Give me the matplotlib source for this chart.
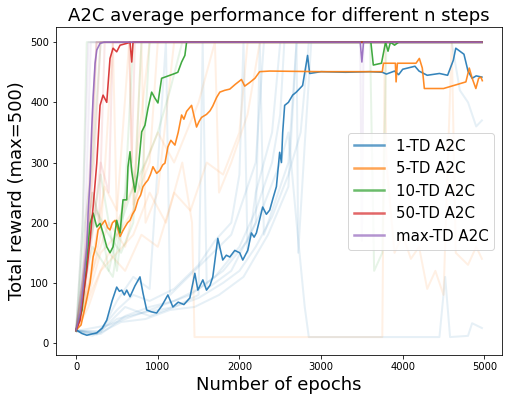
import numpy as np
import matplotlib
matplotlib.use('Agg')
import matplotlib.pyplot as plt

plt.rcParams['font.family'] = 'DejaVu Sans'
plt.rcParams['figure.facecolor'] = 'white'
plt.rcParams['axes.facecolor'] = 'white'

LABELS = ['1-TD A2C', '5-TD A2C', '10-TD A2C', '50-TD A2C', 'max-TD A2C']
COLORS = ['C0', 'C1', 'C2', 'C3', 'C4']

# mean curves, (epoch, reward)
mean_1td = [
    (0, 22), (70, 16), (131, 13), (190, 15), (253, 17), (320, 25), (375, 38),
    (440, 70), (497, 93), (530, 86), (558, 88), (590, 80), (620, 88),
    (660, 77), (720, 95), (782, 110), (819, 83), (864, 55), (920, 52),
    (986, 50), (1050, 62), (1124, 80), (1185, 60), (1250, 68), (1320, 64),
    (1393, 75), (1454, 116), (1491, 88), (1552, 105), (1597, 88),
    (1640, 96), (1674, 110), (1735, 174), (1796, 138), (1840, 146),
    (1882, 143), (1943, 154), (2004, 150), (2041, 138), (2102, 154),
    (2147, 183), (2180, 176), (2208, 183), (2285, 226), (2330, 214),
    (2371, 221), (2410, 240), (2453, 260), (2493, 317), (2515, 300),
    (2530, 350), (2554, 395), (2600, 400), (2652, 412), (2697, 417),
    (2774, 428), (2835, 478), (2860, 448), (3000, 451), (3300, 450),
    (3600, 451), (3750, 450), (3800, 447), (3900, 452), (3950, 446),
    (4000, 455), (4150, 460), (4200, 452), (4300, 445), (4450, 448),
    (4550, 445), (4620, 470), (4650, 490), (4750, 480), (4800, 452),
    (4850, 440), (4900, 444), (4970, 442),
]
mean_5td = [
    (0, 22), (60, 30), (110, 60), (171, 100), (208, 143), (240, 160),
    (269, 188), (310, 196), (354, 204), (385, 192), (415, 188), (445, 200),
    (477, 204), (510, 190), (538, 177), (570, 186), (599, 193), (630, 200),
    (660, 204), (690, 214), (721, 221), (758, 238), (790, 246), (819, 260),
    (850, 266), (880, 271), (910, 280), (941, 293), (986, 282), (1026, 287),
    (1060, 296), (1088, 299), (1124, 326), (1160, 337), (1210, 329),
    (1250, 350), (1292, 379), (1320, 372), (1353, 385), (1414, 395),
    (1475, 359), (1505, 368), (1536, 375), (1597, 380), (1640, 386),
    (1674, 394), (1720, 408), (1760, 417), (1820, 420), (1882, 422),
    (1950, 430), (2025, 438), (2065, 427), (2126, 433), (2190, 440),
    (2248, 451), (2371, 452), (3000, 451), (3500, 451), (3750, 451),
    (3764, 465), (3910, 465), (3919, 434), (3935, 465), (4163, 465),
    (4204, 473), (4240, 457), (4265, 423), (4500, 423), (4774, 434),
    (4815, 457), (4851, 440), (4896, 423), (4930, 440), (4958, 442),
    (4975, 436),
]
mean_10td = [
    (0, 22), (73, 55), (122, 121), (171, 199), (208, 216), (253, 193),
    (293, 199), (330, 183), (375, 160), (415, 150), (452, 160), (497, 204),
    (538, 183), (574, 238), (620, 238), (635, 293), (660, 318), (681, 285),
    (721, 251), (758, 285), (803, 351), (843, 362), (880, 390), (925, 417),
    (965, 407), (1002, 399), (1047, 440), (1088, 442), (1149, 445),
    (1210, 448), (1246, 450), (1292, 467), (1332, 478), (1353, 500),
    (3610, 500), (3640, 462), (3740, 465), (3790, 500), (3820, 485),
    (3850, 500), (3900, 495), (3950, 500), (4970, 500),
]
mean_50td = [
    (0, 22), (49, 38), (86, 77), (131, 121), (171, 171), (208, 226),
    (253, 299), (293, 395), (330, 412), (375, 400), (415, 473), (452, 490),
    (497, 484), (538, 495), (620, 498), (660, 500), (681, 467), (697, 500),
    (4970, 500),
]
mean_maxtd = [
    (0, 22), (49, 50), (86, 93), (131, 160), (147, 216), (171, 271),
    (192, 359), (208, 409), (232, 465), (253, 487), (293, 498), (342, 500),
    (3480, 500), (3500, 467), (3520, 500), (4970, 500),
]

# a few of the single runs (faint lines)
runs_1td = [
    [(0, 20), (300, 15), (600, 45), (900, 60), (1200, 70), (1500, 90),
     (1800, 120), (2100, 170), (2300, 230), (2500, 300), (2600, 350),
     (2700, 200), (2800, 60), (2850, 10), (4450, 10), (4520, 110),
     (4580, 10), (4800, 12), (4850, 33), (4970, 25)],
    [(0, 20), (200, 12), (500, 40), (800, 50), (1100, 65), (1400, 80),
     (1700, 110), (2000, 160), (2200, 220), (2400, 300), (2500, 380),
     (2550, 500), (4600, 500), (4700, 420), (4800, 400), (4900, 360),
     (4970, 370)],
    [(0, 22), (250, 15), (500, 55), (700, 80), (900, 70), (1200, 90),
     (1500, 130), (1700, 170), (1900, 200), (2000, 280), (2050, 500),
     (2100, 150), (2200, 250), (2400, 350), (2500, 500), (4970, 500)],
    [(0, 20), (300, 20), (600, 60), (900, 45), (1200, 60), (1500, 75),
     (1800, 100), (2000, 120), (2200, 160), (2400, 210), (2600, 280),
     (2750, 350), (2850, 500), (4970, 500)],
    [(0, 21), (300, 18), (500, 70), (700, 110), (900, 90), (1100, 500),
     (1150, 80), (1300, 100), (1600, 140), (1900, 180), (2200, 300),
     (2300, 500), (4970, 500)],
    [(0, 20), (250, 14), (550, 35), (850, 40), (1150, 55), (1450, 60),
     (1750, 80), (2050, 110), (2350, 180), (2600, 260), (2700, 500),
     (2720, 150), (2800, 330), (2880, 500), (4970, 500)],
    [(0, 20), (400, 30), (800, 50), (1200, 60), (1500, 80), (1550, 500),
     (1600, 90), (1900, 120), (2200, 200), (2250, 500), (2300, 180),
     (2600, 300), (2700, 500), (4970, 500)],
]
runs_5td = [
    [(0, 20), (150, 60), (300, 120), (500, 150), (700, 180), (900, 250),
     (1100, 200), (1300, 300), (1420, 200), (1450, 10), (3750, 10),
     (3780, 500), (3800, 300), (3900, 150), (4000, 180), (4100, 140),
     (4200, 160), (4300, 90), (4400, 120), (4500, 80), (4600, 500),
     (4650, 150), (4800, 130), (4900, 160), (4970, 140)],
    [(0, 22), (100, 50), (200, 300), (250, 500), (4970, 500)],
    [(0, 20), (150, 80), (300, 150), (500, 180), (700, 220), (800, 500),
     (850, 200), (1000, 250), (1200, 500), (4970, 500)],
    [(0, 20), (200, 120), (400, 200), (600, 160), (800, 280), (1000, 350),
     (1200, 300), (1500, 400), (1700, 500), (1750, 250), (1900, 300),
     (2100, 380), (2250, 500), (4970, 500)],
    [(0, 21), (150, 100), (350, 260), (500, 220), (650, 500), (700, 230),
     (900, 300), (1000, 500), (4970, 500)],
    [(0, 20), (200, 90), (400, 150), (600, 120), (800, 180), (1000, 160),
     (1200, 250), (1400, 220), (1600, 300), (1800, 280), (2000, 350),
     (2100, 500), (4970, 500)],
    [(0, 21), (120, 70), (300, 180), (450, 500), (500, 200), (700, 260),
     (900, 500), (4970, 500)],
]
runs_10td = [
    [(0, 22), (120, 150), (200, 250), (300, 200), (400, 120), (500, 180),
     (600, 250), (700, 500), (4970, 500)],
    [(0, 20), (100, 100), (200, 160), (350, 130), (450, 110), (550, 200),
     (700, 260), (850, 300), (1000, 350), (1150, 420), (1300, 500),
     (4970, 500)],
    [(0, 21), (80, 200), (130, 500), (3600, 500), (3650, 120), (3750, 150),
     (3800, 500), (4970, 500)],
    [(0, 20), (150, 150), (300, 280), (400, 200), (500, 120), (650, 300),
     (800, 250), (900, 500), (4970, 500)],
    [(0, 20), (100, 120), (250, 220), (400, 180), (550, 150), (700, 200),
     (800, 500), (4970, 500)],
    [(0, 22), (90, 180), (200, 300), (300, 500), (4970, 500)],
]
runs_50td = [
    [(0, 20), (80, 100), (150, 250), (250, 500), (4970, 500)],
    [(0, 20), (100, 80), (200, 180), (300, 300), (400, 250), (450, 500),
     (650, 500), (680, 300), (720, 500), (4970, 500)],
    [(0, 22), (120, 150), (220, 300), (300, 500), (4970, 500)],
    [(0, 21), (100, 120), (200, 250), (280, 200), (350, 500), (4970, 500)],
]
runs_maxtd = [
    [(0, 20), (100, 150), (180, 500), (4970, 500)],
    [(0, 21), (80, 200), (150, 500), (4970, 500)],
    [(0, 20), (150, 200), (250, 500), (3480, 500), (3500, 170),
     (3520, 500), (4970, 500)],
]

means = [mean_1td, mean_5td, mean_10td, mean_50td, mean_maxtd]
runs = [runs_1td, runs_5td, runs_10td, runs_50td, runs_maxtd]


fig = plt.figure(figsize=(508 / 72, 399 / 72), dpi=72)
ax = fig.add_axes([0.110, 0.110, 0.878, 0.822])

for series_runs, color in zip(runs, COLORS):
    for run in series_runs:
        arr = np.array(run, dtype=float)
        ax.plot(arr[:, 0], arr[:, 1], color=color, linewidth=2, alpha=0.11)

for curve, color, label in zip(means, COLORS, LABELS):
    arr = np.array(curve, dtype=float)
    ax.plot(arr[:, 0], arr[:, 1], color=color, linewidth=1.6, alpha=0.9,
            label=label)

ax.set_xlim(-248, 5215)
ax.set_ylim(-20, 525)
ax.set_xticks([0, 1000, 2000, 3000, 4000, 5000])
ax.set_yticks([0, 100, 200, 300, 400, 500])
ax.tick_params(axis='both', labelsize=10)

ax.set_title('A2C average performance for different n steps', fontsize=18)
ax.set_xlabel('Number of epochs', fontsize=18)
ax.set_ylabel('Total reward (max=500)', fontsize=18)

leg = ax.legend(loc='center right', fontsize=15)
for h in leg.get_lines():
    h.set_alpha(0.7)
    h.set_linewidth(2.5)

fig.savefig('out.png', dpi=72)
